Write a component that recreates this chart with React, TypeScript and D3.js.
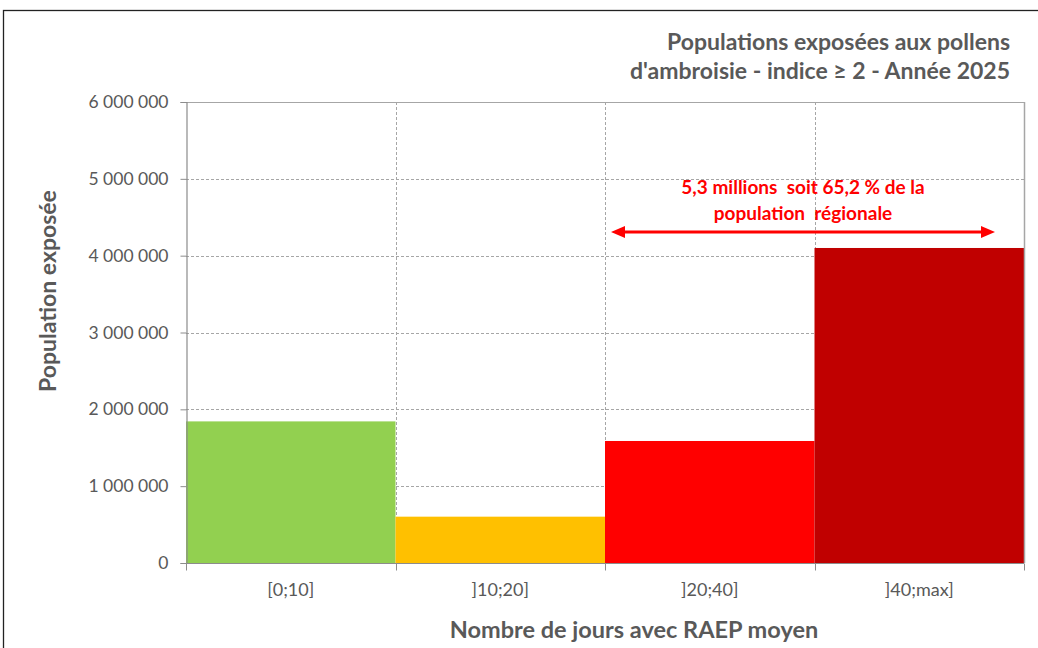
import React, { useEffect, useRef } from "react";
import * as d3 from "d3";

const categories = ["[0;10]", "]10;20]", "]20;40]", "]40;max]"];
const values = [1843000, 603000, 1588000, 4100000];
const colors = ["#92D050", "#FFC000", "#FF0000", "#C00000"];
const yTicks = [0, 1000000, 2000000, 3000000, 4000000, 5000000, 6000000];
const titleLines = ["Populations exposées aux pollens", "d'ambroisie - indice ≥ 2 - Année 2025"];
const annotationLines = ["5,3 millions  soit 65,2 % de la", "population  régionale"];

const W = 1038, H = 648;
const M = { left: 186, right: 1024, top: 102, bottom: 563 };
const FONT = "Lato, 'Open Sans', sans-serif";
const GRAY = "#595959";

export default function App() {
  const ref = useRef<SVGSVGElement>(null);
  useEffect(() => {
    document.body.style.margin = "0";
    const svg = d3.select(ref.current);
    svg.selectAll("*").remove();

    const x = d3.scaleBand().domain(categories).range([M.left, M.right]).padding(0);
    const y = d3.scaleLinear().domain([0, 6000000]).range([M.bottom, M.top]);

    // outer frame
    svg.append("rect").attr("x", 3.5).attr("y", 10.5).attr("width", W + 10).attr("height", H + 10)
      .attr("fill", "white").attr("stroke", "#222").attr("stroke-width", 1.3);

    // horizontal gridlines
    svg.append("g").selectAll("line").data(yTicks.filter(t => t > 0 && t < 6000000)).join("line")
      .attr("x1", M.left).attr("x2", M.right)
      .attr("y1", d => Math.round(y(d)) + 0.5).attr("y2", d => Math.round(y(d)) + 0.5)
      .attr("stroke", "#A6A6A6").attr("stroke-dasharray", "3,2").attr("stroke-width", 1);

    // vertical gridlines at category boundaries
    const bounds = categories.slice(1).map(c => x(c)!);
    svg.append("g").selectAll("line").data(bounds).join("line")
      .attr("x1", d => Math.round(d) + 0.5).attr("x2", d => Math.round(d) + 0.5)
      .attr("y1", M.top).attr("y2", M.bottom)
      .attr("stroke", "#A6A6A6").attr("stroke-dasharray", "3,2").attr("stroke-width", 1);

    // bars
    svg.append("g").selectAll("rect").data(values).join("rect")
      .attr("x", (_, i) => x(categories[i])!)
      .attr("width", x.bandwidth())
      .attr("y", d => y(d))
      .attr("height", d => y(0) - y(d))
      .attr("fill", (_, i) => colors[i]);

    // plot border top & right
    svg.append("line").attr("x1", M.left).attr("x2", M.right).attr("y1", M.top + 0.5).attr("y2", M.top + 0.5)
      .attr("stroke", "#A6A6A6").attr("stroke-width", 1);
    svg.append("line").attr("x1", M.right + 0.5).attr("x2", M.right + 0.5).attr("y1", M.top).attr("y2", M.bottom)
      .attr("stroke", "#A6A6A6").attr("stroke-width", 1.5);

    // y axis
    const yAxis = svg.append("g").attr("transform", `translate(${M.left + 0.5},0)`)
      .call(d3.axisLeft(y).tickValues(yTicks).tickSize(6).tickPadding(12)
        .tickFormat(d => d3.format(",")(d as number).replace(/,/g, " ")));
    yAxis.select(".domain").attr("stroke", "#8C8C8C").attr("stroke-width", 1.2);
    yAxis.selectAll(".tick line").attr("stroke", "#8C8C8C");
    yAxis.selectAll("text").attr("fill", GRAY).attr("font-size", 17.5).attr("font-family", FONT);

    // x axis
    const xAxis = svg.append("g").attr("transform", `translate(0,${M.bottom + 0.5})`);
    xAxis.append("line").attr("x1", M.left).attr("x2", M.right).attr("stroke", "#8C8C8C").attr("stroke-width", 1.2);
    const tickXs = [M.left, ...bounds, M.right];
    xAxis.selectAll("line.t").data(tickXs).join("line").attr("class", "t")
      .attr("x1", d => Math.round(d) + 0.5).attr("x2", d => Math.round(d) + 0.5)
      .attr("y1", 0).attr("y2", 7).attr("stroke", "#8C8C8C");
    xAxis.selectAll("text").data(categories).join("text")
      .attr("x", d => x(d)! + x.bandwidth() / 2).attr("y", 32)
      .attr("text-anchor", "middle").attr("fill", GRAY).attr("font-size", 18).attr("font-family", FONT)
      .text(d => d);

    // axis titles
    svg.append("text").attr("x", (M.left + M.right) / 2 + 29).attr("y", 638)
      .attr("text-anchor", "middle").attr("fill", GRAY).attr("font-size", 23.5).attr("font-weight", "bold")
      .attr("font-family", FONT).text("Nombre de jours avec RAEP moyen");
    svg.append("text").attr("transform", `translate(56,${291}) rotate(-90)`)
      .attr("text-anchor", "middle").attr("fill", GRAY).attr("font-size", 23).attr("font-weight", "bold")
      .attr("font-family", FONT).text("Population exposée");

    // title
    svg.append("g").selectAll("text").data(titleLines).join("text")
      .attr("x", 1010).attr("y", (_, i) => 50 + i * 29)
      .attr("text-anchor", "end").attr("fill", GRAY).attr("font-size", 23).attr("font-weight", "bold")
      .attr("font-family", FONT).text(d => d);

    // annotation
    svg.append("g").selectAll("text").data(annotationLines).join("text")
      .attr("x", 803).attr("y", (_, i) => 194 + i * 26)
      .attr("text-anchor", "middle").attr("fill", "#FF0000").attr("font-size", 19).attr("font-weight", "bold")
      .attr("font-family", FONT).style("white-space", "pre").text(d => d);

    // double arrow
    const ay = 232;
    const ax1 = 611, ax2 = 995;
    svg.append("line").attr("x1", ax1 + 10).attr("x2", ax2 - 10).attr("y1", ay).attr("y2", ay)
      .attr("stroke", "#FF0000").attr("stroke-width", 3);
    svg.append("path").attr("d", `M${ax1},${ay} L${ax1 + 14},${ay - 6} L${ax1 + 14},${ay + 6} Z`).attr("fill", "#FF0000");
    svg.append("path").attr("d", `M${ax2},${ay} L${ax2 - 14},${ay - 6} L${ax2 - 14},${ay + 6} Z`).attr("fill", "#FF0000");
  }, []);

  return (
    <svg ref={ref} width={W} height={H} style={{ display: "block", position: "absolute", left: 0, top: 0 }} />
  );
}
